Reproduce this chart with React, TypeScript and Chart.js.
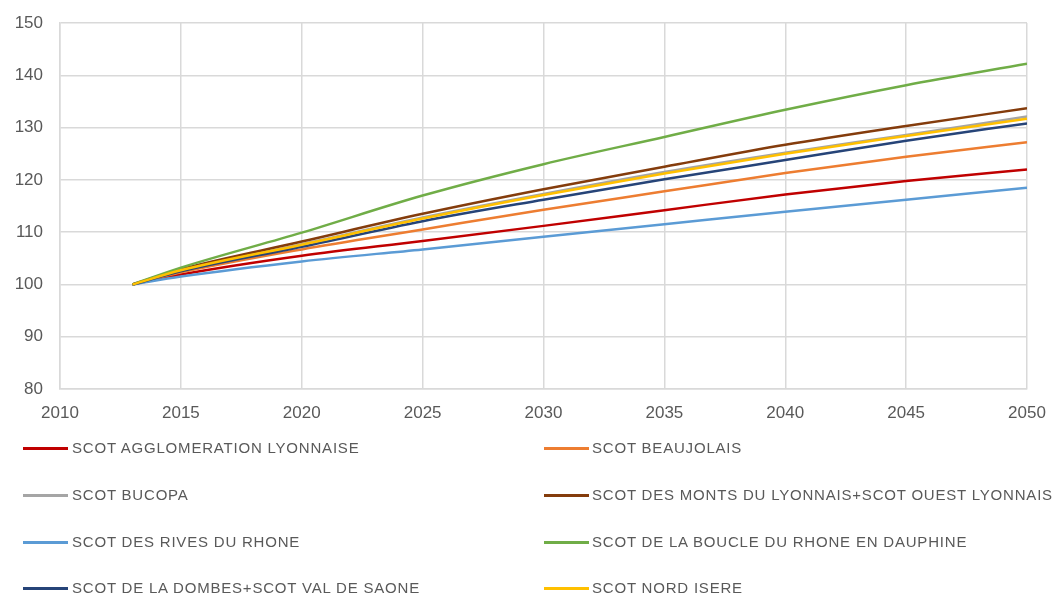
import React, { useEffect, useRef } from "react";
import { Chart, registerables } from "chart.js";

Chart.register(...registerables);

// Years sampled along each projection (index base 100 in 2013)
const years = [2013, 2015, 2020, 2025, 2030, 2035, 2040, 2045, 2050];

const seriesNames = [
  "SCOT AGGLOMERATION LYONNAISE",
  "SCOT BEAUJOLAIS",
  "SCOT BUCOPA",
  "SCOT DES MONTS DU LYONNAIS+SCOT OUEST LYONNAIS",
  "SCOT DES RIVES DU RHONE",
  "SCOT DE LA BOUCLE DU RHONE EN DAUPHINE",
  "SCOT DE LA DOMBES+SCOT VAL DE SAONE",
  "SCOT NORD ISERE",
];

const agglomerationLyonnaise = [100, 101.9, 105.5, 108.3, 111.2, 114.2, 117.2, 119.8, 122.0];
const beaujolais = [100, 102.3, 106.7, 110.5, 114.3, 117.8, 121.3, 124.4, 127.2];
const bucopa = [100, 102.7, 107.7, 112.8, 117.3, 121.5, 125.2, 128.6, 132.1];
const montsOuestLyonnais = [100, 102.9, 108.2, 113.5, 118.2, 122.5, 126.7, 130.3, 133.7];
const rivesDuRhone = [100, 101.5, 104.4, 106.7, 109.1, 111.5, 113.9, 116.2, 118.5];
const boucleDuRhone = [100, 103.2, 109.9, 117.0, 123.0, 128.2, 133.4, 138.1, 142.2];
const dombesValDeSaone = [100, 102.5, 107.2, 112.1, 116.2, 120.1, 123.8, 127.5, 130.8];
const nordIsere = [100, 102.7, 107.6, 112.6, 117.1, 121.2, 125.0, 128.4, 131.7];

const seriesValues = [
  agglomerationLyonnaise,
  beaujolais,
  bucopa,
  montsOuestLyonnais,
  rivesDuRhone,
  boucleDuRhone,
  dombesValDeSaone,
  nordIsere,
];

const seriesColors = [
  "#C00000",
  "#ED7D31",
  "#A5A5A5",
  "#843C0C",
  "#5B9BD5",
  "#70AD47",
  "#264478",
  "#FFC000",
];

const FONT = "'Liberation Sans', Arial, sans-serif";
const TEXT = "#595959";
const GRID = "#D9D9D9";

export default function App() {
  const canvasRef = useRef<HTMLCanvasElement | null>(null);

  useEffect(() => {
    if (!canvasRef.current) return;
    const n = seriesValues.length;
    const chart = new Chart(canvasRef.current, {
      type: "line",
      data: {
        datasets: seriesValues.map((vals, i) => ({
          label: seriesNames[i],
          data: vals.map((v, j) => ({ x: years[j], y: v })),
          borderColor: seriesColors[i],
          backgroundColor: seriesColors[i],
          borderWidth: 2.5,
          pointRadius: 0,
          cubicInterpolationMode: "monotone" as const,
          fill: false,
          order: n - 1 - i,
        })),
      },
      options: {
        animation: false,
        responsive: false,
        maintainAspectRatio: false,
        layout: { padding: { top: 0, right: 0, left: 0, bottom: 0 } },
        plugins: {
          legend: { display: false },
          tooltip: { enabled: false },
        },
        scales: {
          x: {
            type: "linear",
            min: 2010,
            max: 2050,
            ticks: {
              stepSize: 5,
              padding: 14,
              color: TEXT,
              font: { family: FONT, size: 17 },
              maxRotation: 0,
              callback: (v) => String(v),
            },
            grid: { color: GRID, lineWidth: 1.5, drawTicks: false },
            border: { color: GRID, width: 1.5 },
            afterFit: (scale: any) => {
              scale.height = 206;
              scale.paddingRight = 27;
            },
          },
          y: {
            min: 80,
            max: 150,
            ticks: {
              stepSize: 10,
              padding: 17,
              color: TEXT,
              font: { family: FONT, size: 17 },
            },
            grid: { color: GRID, lineWidth: 1.5, drawTicks: false },
            border: { color: GRID, width: 1.5 },
            afterFit: (scale: any) => {
              scale.width = 60;
              scale.paddingTop = 23;
            },
          },
        },
      },
    });
    return () => chart.destroy();
  }, []);

  const rowTops = [448, 495, 542, 588];
  const colLine = [23, 544];
  const colText = [72, 592];

  return (
    <div
      style={{
        position: "fixed",
        left: 0,
        top: 0,
        width: 1054,
        height: 595,
        background: "#fff",
        overflow: "hidden",
      }}
    >
      <canvas ref={canvasRef} width={1054} height={595} style={{ display: "block" }} />
      {seriesNames.map((name, i) => {
        const col = i % 2;
        const row = Math.floor(i / 2);
        const cy = rowTops[row];
        return (
          <React.Fragment key={name}>
            <div
              style={{
                position: "absolute",
                left: colLine[col],
                top: cy - 1.5,
                width: 45,
                height: 3,
                background: seriesColors[i],
              }}
            />
            <div
              style={{
                position: "absolute",
                left: colText[col],
                top: cy - 10,
                height: 20,
                lineHeight: "20px",
                fontFamily: FONT,
                fontSize: 15,
                letterSpacing: "0.8px",
                color: TEXT,
                whiteSpace: "nowrap",
              }}
            >
              {name}
            </div>
          </React.Fragment>
        );
      })}
    </div>
  );
}
